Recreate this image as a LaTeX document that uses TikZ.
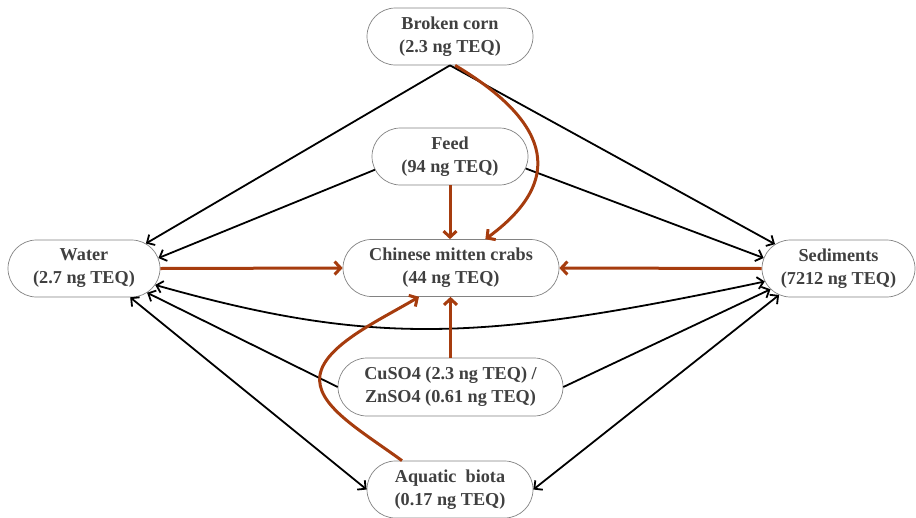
\documentclass[tikz,border=0pt]{standalone}
\usepackage{fontspec}
\setmainfont{Liberation Serif}
\usetikzlibrary{shapes.misc,arrows.meta}
\definecolor{rust}{RGB}{166,60,14}
\definecolor{txt}{RGB}{64,64,64}
\definecolor{bord}{RGB}{130,130,130}
\begin{document}
\begin{tikzpicture}[x=1pt,y=-1pt,
  box/.style={rounded rectangle, draw=bord, line width=0.7pt, fill=white,
    minimum height=57pt, inner sep=0pt, align=center,
    font=\fontsize{18.2}{23}\selectfont\bfseries, text=txt},
  blk/.style={line width=1.8pt, -{Straight Barb[length=6pt,width=12pt]}},
  blkb/.style={line width=1.8pt, {Straight Barb[length=6pt,width=12pt]}-{Straight Barb[length=6pt,width=12pt]}},
  brn/.style={draw=rust, line width=3pt, -{Straight Barb[length=6pt,width=13pt]}}]
\useasboundingbox (0,0) rectangle (916,517);
\node[box, minimum width=166pt] (corn) at (450,36.5) {Broken corn\\(2.3 ng TEQ)};
\node[box, minimum width=156pt] (feed) at (450,156.5) {Feed\\(94 ng TEQ)};
\node[box, minimum width=216pt] (crab) at (451,268) {Chinese mitten crabs\\(44 ng TEQ)};
\node[box, minimum width=152pt] (water) at (84,268.5) {Water\\(2.7 ng TEQ)};
\node[box, minimum width=153pt] (sed) at (838.5,268.5) {Sediments\\(7212 ng TEQ)};
\node[box, minimum width=225pt, minimum height=58pt] (cu) at (450.5,387) {CuSO4 (2.3 ng TEQ) /\\ZnSO4 (0.61 ng TEQ)};
\node[box, minimum width=166pt] (aq) at (450,489.5) {Aquatic\enspace biota\\(0.17 ng TEQ)};
% black connectors
\draw[blk] (corn.south) -- (water.22);
\draw[blk] (corn.south) -- (sed.159.6);
\draw[blk] (feed.190) -- (water.8);
\draw[blk] (feed.351.5) -- (sed.172);
\draw[blkb] (water.347) .. controls (375,347) and (483,341) .. (sed.190);
\draw[blk] (cu.west) -- (water.339.5);
\draw[blk] (cu.east) -- (sed.197);
\draw[blkb] (water.328.4) -- (aq.west);
\draw[blkb] (sed.204) -- (aq.east);
% brown connectors
\draw[brn] (feed.south) -- (feed.south |- crab.north);
\draw[brn] (water.east) -- (crab.west);
\draw[brn] (sed.west) -- (crab.east);
\draw[brn] (cu.north) -- (cu.north |- crab.south);
\draw[brn] (corn.280) .. controls (530,110) and (580,170) .. (crab.40);
\draw[brn] (aq.149) .. controls (360,430) and (315,405) .. (320,375) .. controls (325,345) and (380,320) .. (crab.222);
\end{tikzpicture}
\end{document}
